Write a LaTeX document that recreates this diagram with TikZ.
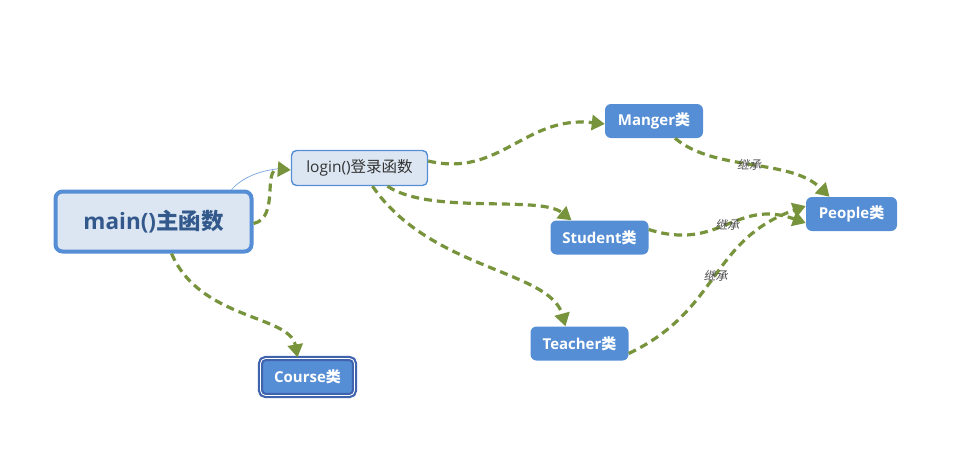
\documentclass[tikz,border=0pt]{standalone}
\usepackage{fontspec}
\setmainfont{Open Sans}
\newfontfamily\cjk{Noto Sans CJK SC}
\newfontfamily\slantfont[FakeSlant=0.2]{Noto Sans CJK SC}
\usetikzlibrary{arrows.meta}
\definecolor{lgreen}{HTML}{77933C}
\definecolor{nblue}{HTML}{558ED5}
\definecolor{pblue}{HTML}{DCE6F2}
\definecolor{dblue}{HTML}{33598C}
\definecolor{cborder}{HTML}{4063AE}
\tikzset{
  link/.style={draw=lgreen, line width=3.2pt, dash pattern=on 8pt off 5pt, -{Triangle[length=13pt,width=15pt]}},
  classbox/.style={fill=nblue, rounded corners=6pt, text=white, font=\bfseries\fontsize{15}{17}\selectfont, minimum width=98pt, minimum height=34pt, inner sep=0pt},
  inherit/.style={font=\slantfont\fontsize{12}{13}\selectfont, text=black!70, inner sep=1pt}
}
\begin{document}
\begin{tikzpicture}[x=1pt,y=-1pt]
\useasboundingbox (0,0) rectangle (961,456);
\node[draw=nblue, line width=4pt, fill=pblue, rounded corners=7pt, minimum width=196pt, minimum height=60pt, inner sep=0pt, text=dblue, font=\bfseries\fontsize{22.5}{26}\selectfont] (main) at (153.5,221.5) {main()\cjk{\bfseries 主函数}};
\node[draw=nblue, line width=1.4pt, fill=pblue, rounded corners=5pt, minimum width=136pt, minimum height=35pt, inner sep=0pt, text=black!80, font=\fontsize{15.5}{17}\selectfont] (login) at (359.5,168) {login()\cjk{登录函数}};
\node[classbox] (manger) at (654,121) {Manger\cjk{\bfseries 类}};
\node[classbox] (student) at (599.5,237.5) {Student\cjk{\bfseries 类}};
\node[classbox] (teacher) at (579.5,343.5) {Teacher\cjk{\bfseries 类}};
\node[classbox, minimum width=91pt] (people) at (851.5,214) {People\cjk{\bfseries 类}};
\node[classbox, draw=cborder, line width=2.2pt, double=white, double distance=0.8pt, minimum width=94pt, minimum height=37pt, rounded corners=5pt] (course) at (307.5,377) {Course\cjk{\bfseries 类}};
% thin relation line
\draw[nblue!80, line width=0.7pt] ([xshift=78pt]main.north) .. controls (245,175) and (265,169) .. ([xshift=-3pt]login.west);
% connectors
\draw[link] ([yshift=-2pt]main.east) .. controls (280,218) and (262,168) .. ([yshift=-2pt]login.west);
\draw[link] ([yshift=7pt]login.east) .. controls (500,178) and (525,115) .. ([yshift=-3pt]manger.west);
\draw[link] ([xshift=28pt]login.south) .. controls (430,215) and (540,195) .. ([xshift=-28pt]student.north);
\draw[link] ([xshift=13pt]login.south) .. controls (430,270) and (550,270) .. ([xshift=-14pt]teacher.north);
\draw[link] ([xshift=18pt]main.south) .. controls (200,320) and (290,315) .. ([xshift=-10pt]course.north);
\draw[link] ([xshift=21pt]manger.south) .. controls (715,172) and (790,158) .. node[inherit, pos=0.48] {继承} ([xshift=-22pt]people.north);
\draw[link] ([yshift=8pt]student.east) .. controls (720,252) and (735,198) .. node[inherit, pos=0.5] {继承} ([yshift=-9pt]people.west);
\draw[link] ([yshift=-10pt]teacher.east) .. controls (720,310) and (710,240) .. node[inherit, pos=0.5] {继承} ([yshift=8pt]people.west);
\end{tikzpicture}
\end{document}
